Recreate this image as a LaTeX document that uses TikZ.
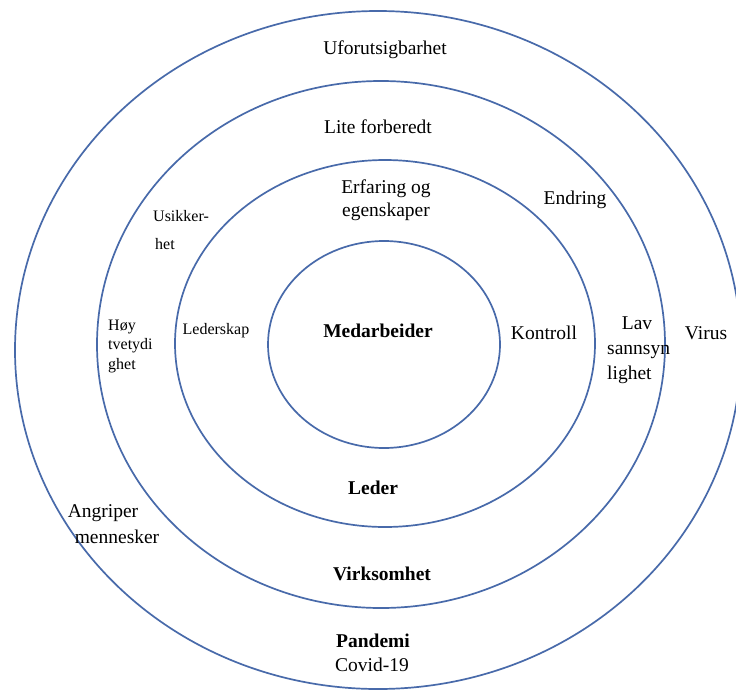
\documentclass[tikz,border=0pt]{standalone}
\usepackage{fontspec}
\setmainfont{Liberation Serif}
\definecolor{ringblue}{RGB}{72,106,170}
\begin{document}
\begin{tikzpicture}[x=1pt,y=-1pt,
  ring/.style={draw=ringblue,line width=1.7pt},
  lbl/.style={inner sep=0pt,font=\fontsize{19.5}{23}\selectfont},
  small/.style={inner sep=0pt,font=\fontsize{16}{19}\selectfont},
  bold/.style={inner sep=0pt,font=\fontsize{19.5}{22}\selectfont\bfseries}]
\clip (0,0) rectangle (736,694);
\fill[white] (0,0) rectangle (736,694);
% rings
\draw[ring] (378,350) ellipse [x radius=363pt, y radius=339pt];
\draw[ring] (381,344.5) ellipse [x radius=284pt, y radius=263.5pt];
\draw[ring] (385,343.5) ellipse [x radius=210pt, y radius=183.5pt];
\draw[ring] (384,344.5) ellipse [x radius=116pt, y radius=103.5pt];
% outer ring texts
\node[lbl] (ufor) at (385,50) {Uforutsigbarhet};
\node[lbl] (virus) at (706,333) {Virus};
\node[lbl] (angr) at (103,513) {Angriper};
\node[lbl] (menn) at (117,537) {mennesker};
\node[bold] (pand) at (373,641) {Pandemi};
\node[lbl] (covid) at (372,665) {Covid-19};
% second ring texts
\node[lbl] (lite) at (378,127) {Lite forberedt};
\node[lbl] (endr) at (575,200) {Endring};
\node[small,anchor=west] (usik1) at (153,216) {Usikker-};
\node[small,anchor=west] (usik2) at (155,244) {het};
\node[small,anchor=west] (hoy1) at (108,327) {Høy};
\node[small,anchor=west] (hoy2) at (108,346) {tvetydi};
\node[small,anchor=west] (hoy3) at (108,366) {ghet};
\node[lbl] (lav1) at (637,323) {Lav};
\node[lbl,anchor=west] (lav2) at (607,352) {sannsyn};
\node[lbl,anchor=west] (lav3) at (607,375) {lighet};
\node[bold] (virk) at (382,574) {Virksomhet};
% third ring texts
\node[lbl,align=center] (erf) at (386,200) {Erfaring og\\egenskaper};
\node[small] (ledsk) at (216,331) {Lederskap};
\node[lbl] (kontr) at (544,333) {Kontroll};
\node[bold] (leder) at (373,488) {Leder};
% inner
\node[bold] (medarb) at (378,331) {Medarbeider};
\end{tikzpicture}
\end{document}
